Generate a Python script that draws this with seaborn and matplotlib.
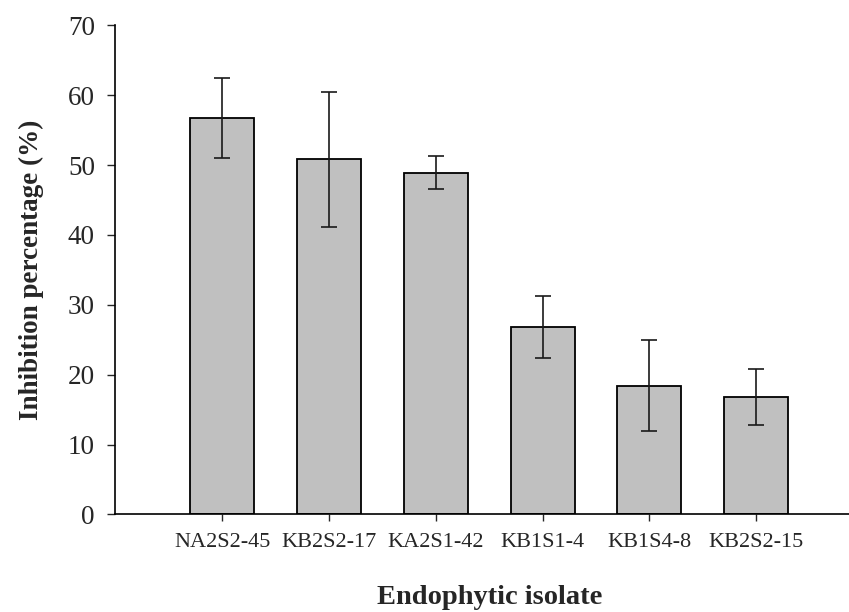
import matplotlib
matplotlib.use("Agg")
import matplotlib.pyplot as plt
import seaborn as sns
import pandas as pd

# isolates and their inhibition (mean, error)
isolates = ["NA2S2-45", "KB2S2-17", "KA2S1-42", "KB1S1-4", "KB1S4-8", "KB2S2-15"]
inhibition = [56.7, 50.8, 48.9, 26.8, 18.4, 16.8]
errors = [5.7, 9.6, 2.4, 4.4, 6.5, 4.0]

df = pd.DataFrame({"isolate": isolates, "inhibition": inhibition})

sns.set_style("white")
plt.rcParams["font.family"] = ["Liberation Serif", "DejaVu Serif"]

fig = plt.figure(figsize=(8.49, 6.12), dpi=100)
ax = fig.add_axes([0.1355, 0.1595, 0.8645, 0.7992])

sns.barplot(data=df, x="isolate", y="inhibition", color="#c0c0c0",
            edgecolor="black", linewidth=1.3, width=0.6, saturation=1,
            errorbar=None, ax=ax)
ax.errorbar(range(len(isolates)), df["inhibition"], yerr=errors, fmt="none",
            ecolor="#1a1a1a", elinewidth=1.2, capsize=5.5, capthick=1.2)

ax.set_xlim(-1.006, 5.87)
ax.set_ylim(0, 70)
ax.set_yticks(range(0, 71, 10))
sns.despine(ax=ax)
for s in ["left", "bottom"]:
    ax.spines[s].set_linewidth(1.2)
    ax.spines[s].set_color("black")

ax.tick_params(axis="y", direction="out", length=5.5, width=1.0, labelsize=19.5, pad=9, left=True)
ax.tick_params(axis="x", direction="out", length=5, width=1.0, labelsize=16, pad=8.5, bottom=True)

ax.set_ylabel("Inhibition percentage (%)", fontsize=19.5, fontweight="bold")
ax.set_xlabel("Endophytic isolate", fontsize=20.5, fontweight="bold")
ax.yaxis.set_label_coords(-0.097, 0.5)
ax.xaxis.set_label_coords(0.511, -0.145)

fig.savefig("out.png", dpi=100)
